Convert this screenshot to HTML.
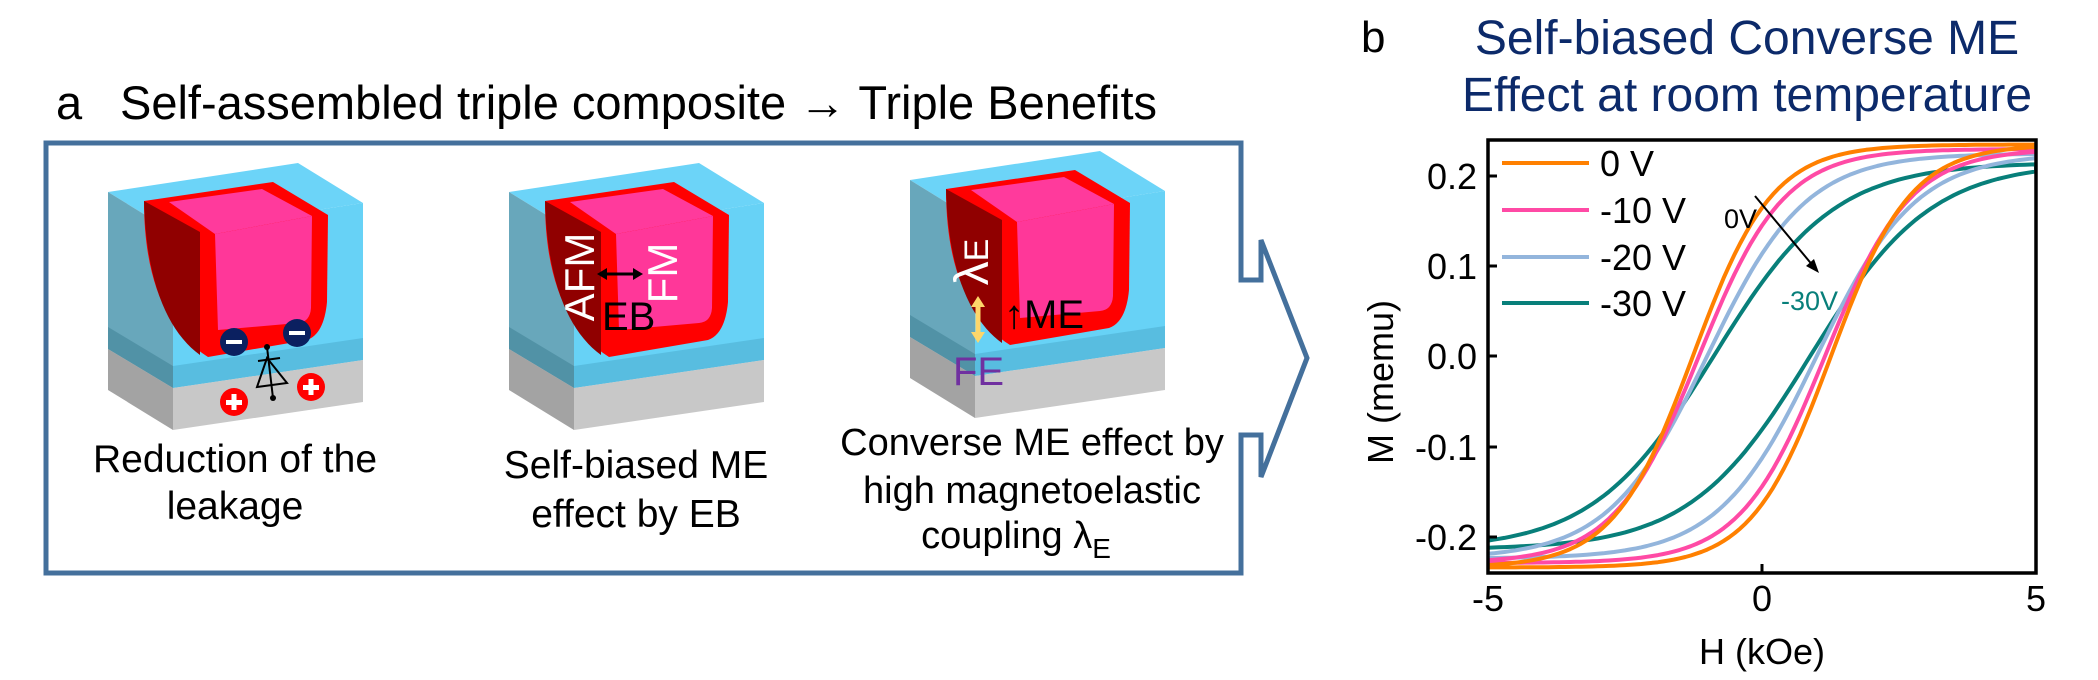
<!DOCTYPE html>
<html><head><meta charset="utf-8"><style>
html,body{margin:0;padding:0;background:#fff;}
svg{display:block;font-family:"Liberation Sans",Arial,sans-serif;}
</style></head><body>
<svg id="s" width="2098" height="680" viewBox="0 0 2098 680" xmlns="http://www.w3.org/2000/svg">
<defs>
<g id="cube">
  <polygon points="0,0 190,-29 255,11 65,40" fill="#6cd4f8"/>
  <polygon points="0,0 65,40 65,196 0,157" fill="#68a7bb"/>
  <polygon points="65,40 255,11 255,168 65,196" fill="#67d2f6"/>
  <polygon points="0,135 65,174 65,196 0,157" fill="#5192a6"/>
  <polygon points="65,174 255,146 255,168 65,196" fill="#58bde0"/>
  <polygon points="0,157 65,196 65,238 0,198" fill="#a3a3a3"/>
  <polygon points="65,196 255,168 255,210 65,238" fill="#c8c8c8"/>
  <path d="M36,9 L165,-10 L220,23 L219,110 Q216,142 199,148 L100,165 C60,140 36,90 36,9 Z" fill="#ff0000"/>
  <path d="M36,9 L92,40 L92,163 C60,140 38,90 36,9 Z" fill="#900000"/>
  <polygon points="61,10 154,-3 204,24 107,42" fill="#ff3a9c"/>
  <path d="M107,42 L204,24 L203,116 Q202,130 190,131 L110,138 Z" fill="#ff3799"/>
</g>
</defs>

<text x="56" y="119" font-size="47">a</text>
<text x="120" y="119" font-size="47">Self-assembled triple composite → Triple Benefits</text>

<path d="M46,143 H1241 V280 H1261 V240 L1307,358 L1261,477 V435 H1241 V573 H46 Z" fill="none" stroke="#44709c" stroke-width="5"/>

<use href="#cube" transform="translate(108,192)"/>
<use href="#cube" transform="translate(509,192)"/>
<use href="#cube" transform="translate(910,180)"/>

<g stroke="#000" stroke-width="2" fill="none">
  <line x1="267" y1="347" x2="273" y2="398"/>
  <polygon points="267,358 257,387 287,383" fill="none"/>
  <line x1="258" y1="361" x2="280" y2="358"/>
</g>
<circle cx="267" cy="347" r="3"/><circle cx="273" cy="398" r="3"/>
<circle cx="234" cy="342" r="14" fill="#0b2060"/><rect x="226" y="340" width="16" height="4" fill="#fff"/>
<circle cx="297" cy="333" r="14" fill="#0b2060"/><rect x="289" y="331" width="16" height="4" fill="#fff"/>
<circle cx="234" cy="402" r="14" fill="#ff0000"/><rect x="226" y="400" width="16" height="5" fill="#fff"/><rect x="231.5" y="394" width="5" height="16" fill="#fff"/>
<circle cx="311" cy="387" r="14" fill="#ff0000"/><rect x="303" y="385" width="16" height="5" fill="#fff"/><rect x="308.5" y="379" width="5" height="16" fill="#fff"/>
<text x="235" y="472" font-size="39" text-anchor="middle">Reduction of the</text>
<text x="235" y="519" font-size="39" text-anchor="middle">leakage</text>

<text transform="translate(594,277) rotate(-90)" font-size="42" fill="#fff" text-anchor="middle">AFM</text>
<text transform="translate(677,273) rotate(-90)" font-size="42" fill="#fff" text-anchor="middle">FM</text>
<line x1="604" y1="274" x2="636" y2="274" stroke="#000" stroke-width="3"/>
<polygon points="597,274 607,268 607,280"/><polygon points="643,274 633,268 633,280"/>
<text x="602" y="330" font-size="40">EB</text>
<text x="636" y="478" font-size="39" text-anchor="middle">Self-biased ME</text>
<text x="636" y="527" font-size="39" text-anchor="middle">effect by EB</text>

<text transform="translate(988,262) rotate(-90)" font-size="48" fill="#fff" text-anchor="middle">λ<tspan font-size="34">E</tspan></text>
<line x1="978" y1="303" x2="978" y2="336" stroke="#fdd66a" stroke-width="5"/>
<polygon points="978,296 971,307 985,307" fill="#fdd66a"/><polygon points="978,343 971,332 985,332" fill="#fdd66a"/>
<text x="1004" y="328" font-size="40">↑ME</text>
<text x="953" y="385" font-size="40" fill="#7030a0">FE</text>
<text x="1032" y="455" font-size="38" text-anchor="middle">Converse ME effect by</text>
<text x="1032" y="503" font-size="38" text-anchor="middle">high magnetoelastic</text>
<text x="1016" y="548" font-size="38" text-anchor="middle">coupling λ<tspan font-size="28" dy="10">E</tspan></text>

<text x="1361" y="52" font-size="44">b</text>
<text x="1747" y="54" font-size="48" fill="#0c2a6a" text-anchor="middle">Self-biased Converse ME</text>
<text x="1747" y="111" font-size="48" fill="#0c2a6a" text-anchor="middle">Effect at room temperature</text>

<clipPath id="cp"><rect x="1488" y="140" width="548" height="433"/></clipPath>
<g id="curves" clip-path="url(#cp)" fill="none" stroke-width="4" stroke-linejoin="round"></g>

<rect x="1488" y="140" width="548" height="433" fill="none" stroke="#000" stroke-width="3.5"/>
<g stroke="#000" stroke-width="3">
  <line x1="1488" y1="176" x2="1497" y2="176"/><line x1="1488" y1="266" x2="1497" y2="266"/>
  <line x1="1488" y1="356" x2="1497" y2="356"/><line x1="1488" y1="447" x2="1497" y2="447"/>
  <line x1="1488" y1="537" x2="1497" y2="537"/><line x1="1762" y1="573" x2="1762" y2="564"/>
</g>
<g font-size="36" text-anchor="end">
  <text x="1477" y="189">0.2</text><text x="1477" y="279">0.1</text><text x="1477" y="369">0.0</text>
  <text x="1477" y="460">-0.1</text><text x="1477" y="550">-0.2</text>
</g>
<g font-size="36" text-anchor="middle">
  <text x="1488" y="611">-5</text><text x="1762" y="611">0</text><text x="2036" y="611">5</text>
  <text x="1762" y="664">H (kOe)</text>
</g>
<text transform="translate(1393,382) rotate(-90)" font-size="36" text-anchor="middle">M (memu)</text>

<g stroke-width="4">
  <line x1="1502" y1="163" x2="1589" y2="163" stroke="#ff8000"/>
  <line x1="1502" y1="210" x2="1589" y2="210" stroke="#ff4aa5"/>
  <line x1="1502" y1="257" x2="1589" y2="257" stroke="#93b5dc"/>
  <line x1="1502" y1="303" x2="1589" y2="303" stroke="#087f7a"/>
</g>
<g font-size="36">
  <text x="1600" y="176">0 V</text><text x="1600" y="223">-10 V</text>
  <text x="1600" y="270">-20 V</text><text x="1600" y="316">-30 V</text>
</g>
<line x1="1755" y1="196" x2="1814" y2="267" stroke="#000" stroke-width="2"/>
<polygon points="1819,273 1806,266 1814,259"/>
<text x="1724" y="228" font-size="27">0V</text>
<text x="1781" y="310" font-size="27" fill="#087f7a">-30V</text>

<script>
(function(){
var g=document.getElementById('curves');
var sets=[["#087f7a",0.215,0.88,2.2],["#93b5dc",0.225,1.0,1.8],["#ff4aa5",0.23,1.15,1.55],["#ff8000",0.235,1.26,1.45]];
function X(h){return 1762+h*54.8;}function Y(m){return 356-m*900;}
sets.forEach(function(s){
  var d="";
  for(var i=0;i<=100;i++){var h=-5+i*0.1;var m=s[1]*Math.tanh((h+s[2])/s[3]);d+=(i?"L":"M")+X(h).toFixed(1)+","+Y(m).toFixed(1);}
  for(var i=0;i<=100;i++){var h=5-i*0.1;var m=s[1]*Math.tanh((h-s[2])/s[3]);d+="L"+X(h).toFixed(1)+","+Y(m).toFixed(1);}
  var p=document.createElementNS("http://www.w3.org/2000/svg","path");
  p.setAttribute("d",d);p.setAttribute("stroke",s[0]);g.appendChild(p);
});
})();
</script>
</svg>
</body></html>
